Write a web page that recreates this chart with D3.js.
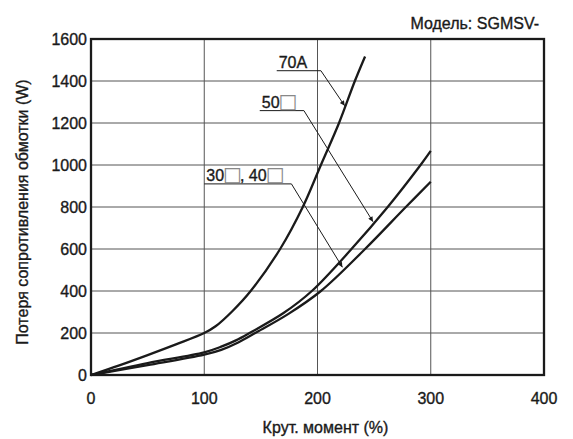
<!DOCTYPE html>
<html>
<head>
<meta charset="utf-8">
<script src="https://cdn.jsdelivr.net/npm/d3@7"></script>
<style>
  body { margin: 0; background: #fff; }
  svg { display: block; font-family: "Liberation Sans", Arial, Helvetica, sans-serif; }
  .tick-label, .title, .note { font-size: 16px; fill: #1a1a1a; stroke: #1a1a1a; stroke-width: 0.35px; }
  .box { font-family: "DejaVu Sans", sans-serif; font-size: 20px; fill: #888; stroke: none; }
</style>
</head>
<body>
<svg width="573" height="439"></svg>
<script>
// torque (%) vs winding loss (W)
const torque70 = [0, 25, 50, 75, 100, 110, 125, 141, 167, 187, 203, 219, 233, 242];
const loss70 = [0, 46, 95, 146, 200, 232, 305, 400, 600, 800, 1000, 1200, 1400, 1517];

const torque50 = [0, 50, 100, 115, 128, 140, 170, 195, 230, 262, 291, 300];
const loss50 = [0, 57, 108, 135, 165, 200, 295, 400, 600, 800, 1000, 1067];

const torque3040 = [0, 50, 100, 115, 130, 145, 174, 203, 242, 278, 300];
const loss3040 = [0, 47, 97, 120, 155, 200, 290, 400, 600, 800, 920];

const xTicks = [0, 100, 200, 300, 400];
const yTicks = [0, 200, 400, 600, 800, 1000, 1200, 1400, 1600];

// callouts: label parts, underline start/end, arrow tip (data units)
const callouts = [
  { parts: ["70A"], x0: 164, x1: 203, y: 1449, tx: 224, ty: 1282 },
  { parts: ["50", "\u25A1"], x0: 149, x1: 188, y: 1259, tx: 249, ty: 730 },
  { parts: ["30", "\u25A1", ", 40", "\u25A1"], x0: 100, x1: 177, y: 910, tx: 222, ty: 513 }
];

const svg = d3.select("svg"),
  margin = { top: 39, right: 29, bottom: 64, left: 91 },
  width = +svg.attr("width") - margin.left - margin.right,
  height = +svg.attr("height") - margin.top - margin.bottom;

const chart = svg.append("g")
  .attr("transform", `translate(${margin.left},${margin.top})`);

const x = d3.scaleLinear().domain([0, 400]).range([0, width]);
const y = d3.scaleLinear().domain([0, 1600]).range([height, 0]);

// grid
chart.append("g")
  .selectAll("line")
  .data(xTicks.slice(1, -1))
  .join("line")
  .attr("x1", d => x(d)).attr("x2", d => x(d))
  .attr("y1", 0).attr("y2", height)
  .attr("stroke", "#555").attr("stroke-width", 1);

chart.append("g")
  .selectAll("line")
  .data(yTicks.slice(1, -1))
  .join("line")
  .attr("x1", 0).attr("x2", width)
  .attr("y1", d => y(d)).attr("y2", d => y(d))
  .attr("stroke", "#555").attr("stroke-width", 1);

// tick labels
chart.append("g")
  .selectAll("text")
  .data(xTicks)
  .join("text")
  .attr("class", "tick-label")
  .attr("x", d => x(d))
  .attr("y", height + 28.5)
  .attr("text-anchor", "middle")
  .text(d => d);

chart.append("g")
  .selectAll("text")
  .data(yTicks)
  .join("text")
  .attr("class", "tick-label")
  .attr("x", -4)
  .attr("y", d => y(d))
  .attr("dy", "0.36em")
  .attr("text-anchor", "end")
  .text(d => d);

// curves
const line = d3.line()
  .x(d => x(d[0]))
  .y(d => y(d[1]))
  .curve(d3.curveCatmullRom.alpha(0.5));

[[torque70, loss70], [torque50, loss50], [torque3040, loss3040]].forEach(([t, l]) => {
  chart.append("path")
    .datum(t.map((v, i) => [v, l[i]]))
    .attr("d", line)
    .attr("fill", "none")
    .attr("stroke", "#1a1a1a")
    .attr("stroke-width", 2.3);
});

// frame
chart.append("rect")
  .attr("width", width)
  .attr("height", height)
  .attr("fill", "none")
  .attr("stroke", "#1a1a1a")
  .attr("stroke-width", 2.3);

// arrow marker
svg.append("defs").append("marker")
  .attr("id", "arrow")
  .attr("viewBox", "0 0 10 10")
  .attr("refX", 10).attr("refY", 5)
  .attr("markerWidth", 9).attr("markerHeight", 5)
  .attr("markerUnits", "userSpaceOnUse")
  .attr("orient", "auto")
  .append("path")
  .attr("d", "M0,0L10,5L0,10Z")
  .attr("fill", "#1a1a1a");

const notes = chart.append("g");
callouts.forEach(c => {
  notes.append("polyline")
    .attr("points", [[x(c.x0), y(c.y)], [x(c.x1), y(c.y)], [x(c.tx), y(c.ty)]].join(" "))
    .attr("fill", "none")
    .attr("stroke", "#1a1a1a")
    .attr("stroke-width", 1)
    .attr("marker-end", "url(#arrow)");
  const t = notes.append("text")
    .attr("class", "note")
    .attr("x", x(c.x0) + 2)
    .attr("y", y(c.y) - 3);
  c.parts.forEach(p => {
    t.append("tspan")
      .attr("class", p === "\u25A1" ? "box" : null)
      .attr("dx", p === "\u25A1" ? -1 : (p.startsWith(",") ? -2 : null))
      .text(p);
  });
});

// titles
svg.append("text")
  .attr("class", "title")
  .attr("x", 539)
  .attr("y", 29)
  .attr("text-anchor", "end")
  .text("Модель: SGMSV-");

svg.append("text")
  .attr("class", "title")
  .attr("x", margin.left + width / 2 + 8)
  .attr("y", 433)
  .attr("text-anchor", "middle")
  .text("Крут. момент (%)");

svg.append("text")
  .attr("class", "title")
  .attr("transform", `translate(28,212) rotate(-90)`)
  .attr("text-anchor", "middle")
  .text("Потеря сопротивления обмотки (W)");
</script>
</body>
</html>
